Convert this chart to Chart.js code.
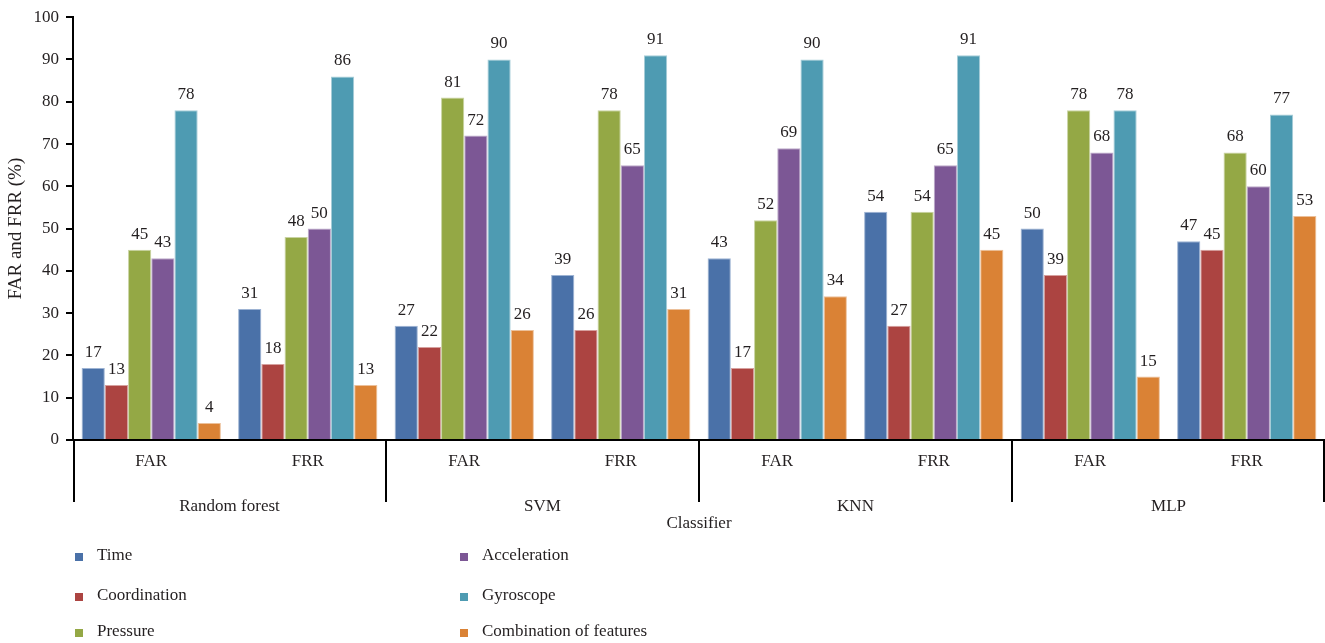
<!DOCTYPE html>
<html>
<head>
<meta charset="utf-8">
<script src="https://cdn.jsdelivr.net/npm/chart.js@4"></script>
<style>
  html, body { margin: 0; padding: 0; background: #ffffff; }
  #wrap { width: 1325px; height: 643px; position: relative; }
</style>
</head>
<body>
<div id="wrap"><canvas id="c" width="1325" height="643"></canvas></div>
<script>
// Rates per classifier and feature set
const categories = ['FAR', 'FRR', 'FAR', 'FRR', 'FAR', 'FRR', 'FAR', 'FRR'];
const classifiers = ['Random forest', 'SVM', 'KNN', 'MLP'];
const yTicks = [0, 10, 20, 30, 40, 50, 60, 70, 80, 90, 100];

const time         = [17, 31, 27, 39, 43, 54, 50, 47];
const coordination = [13, 18, 22, 26, 17, 27, 39, 45];
const pressure     = [45, 48, 81, 78, 52, 54, 78, 68];
const acceleration = [43, 50, 72, 65, 69, 65, 68, 60];
const gyroscope    = [78, 86, 90, 91, 90, 91, 78, 77];
const combination  = [4, 13, 26, 31, 34, 45, 15, 53];

const seriesNames = ['Time', 'Coordination', 'Pressure', 'Acceleration', 'Gyroscope', 'Combination of features'];
const seriesData = [time, coordination, pressure, acceleration, gyroscope, combination];
const fills = ['#4a71a8', '#ac4441', '#94a845', '#7c5795', '#4e9bb2', '#da8235'];
const edges = ['#9db3d3', '#d6a09e', '#c9d3a2', '#bdaaca', '#a6cdd8', '#ecc09a'];

const FONT = '"Liberation Serif", "DejaVu Serif", serif';
const INK = '#231f20';
const SIZE = 17;

// Value labels above each bar
const valueLabels = {
  id: 'valueLabels',
  afterDatasetsDraw(chart) {
    const ctx = chart.ctx;
    ctx.save();
    ctx.font = SIZE + 'px ' + FONT;
    ctx.fillStyle = INK;
    ctx.textAlign = 'center';
    ctx.textBaseline = 'alphabetic';
    chart.data.datasets.forEach((ds, di) => {
      const meta = chart.getDatasetMeta(di);
      meta.data.forEach((bar, i) => {
        ctx.fillText(String(ds.data[i]), bar.x, bar.y - 11);
      });
    });
    ctx.restore();
  }
};

// Classifier grouping under the FAR / FRR labels, axis title and legend
const groupAxis = {
  id: 'groupAxis',
  afterDraw(chart) {
    const ctx = chart.ctx;
    const xs = chart.scales.x;
    const base = chart.chartArea.bottom;
    ctx.save();
    ctx.strokeStyle = '#000';
    ctx.lineWidth = 2;
    for (let g = 0; g <= classifiers.length; g++) {
      let px;
      if (g === 0) px = xs.left + 1;
      else if (g === classifiers.length) px = xs.right - 1;
      else px = (xs.getPixelForValue(2 * g - 1) + xs.getPixelForValue(2 * g)) / 2;
      ctx.beginPath();
      ctx.moveTo(px, base);
      ctx.lineTo(px, base + 62);
      ctx.stroke();
    }
    ctx.font = SIZE + 'px ' + FONT;
    ctx.fillStyle = INK;
    ctx.textAlign = 'center';
    ctx.textBaseline = 'middle';
    classifiers.forEach((name, g) => {
      const cx = (xs.getPixelForValue(2 * g) + xs.getPixelForValue(2 * g + 1)) / 2;
      ctx.fillText(name, cx, base + 67);
    });
    ctx.fillText('Classifier', (xs.left + xs.right) / 2, base + 84);

    // legend, two columns of three
    const colX = [75, 460];
    const rowY = [556, 596, 632];
    ctx.textAlign = 'left';
    chart.data.datasets.forEach((ds, i) => {
      const col = Math.floor(i / 3), row = i % 3;
      ctx.fillStyle = ds.backgroundColor;
      ctx.fillRect(colX[col], rowY[row] - 3, 8, 8);
      ctx.fillStyle = INK;
      ctx.fillText(ds.label, colX[col] + 22, rowY[row]);
    });
    ctx.restore();
  }
};

new Chart(document.getElementById('c'), {
  type: 'bar',
  data: {
    labels: categories,
    datasets: seriesNames.map((name, i) => ({
      label: name,
      data: seriesData[i],
      backgroundColor: fills[i],
      borderColor: edges[i],
      borderWidth: 1,
      barPercentage: 1.0,
      categoryPercentage: 0.89
    }))
  },
  options: {
    responsive: false,
    animation: false,
    devicePixelRatio: 1,
    layout: { padding: { top: 9, right: 0, bottom: 0, left: 0 } },
    plugins: {
      legend: { display: false },
      tooltip: { enabled: false }
    },
    scales: {
      x: {
        type: 'category',
        grid: { display: false },
        border: { display: true, color: '#000', width: 2 },
        ticks: { color: INK, font: { family: FONT, size: SIZE }, padding: 3, maxRotation: 0 },
        afterFit(s) { s.height = 203; }
      },
      y: {
        min: 0,
        max: 100,
        afterBuildTicks(s) { s.ticks = yTicks.map(v => ({ value: v })); },
        grid: { display: true, drawOnChartArea: false, drawTicks: true, tickLength: 7, color: '#000', lineWidth: 2 },
        border: { display: true, color: '#000', width: 2 },
        ticks: { color: INK, font: { family: FONT, size: SIZE }, padding: 7 },
        title: { display: true, text: 'FAR and FRR (%)', color: INK, font: { family: FONT, size: 19 }, padding: { top: 5, bottom: 0 } },
        afterFit(s) { s.width = 73; }
      }
    }
  },
  plugins: [valueLabels, groupAxis]
});
</script>
</body>
</html>
